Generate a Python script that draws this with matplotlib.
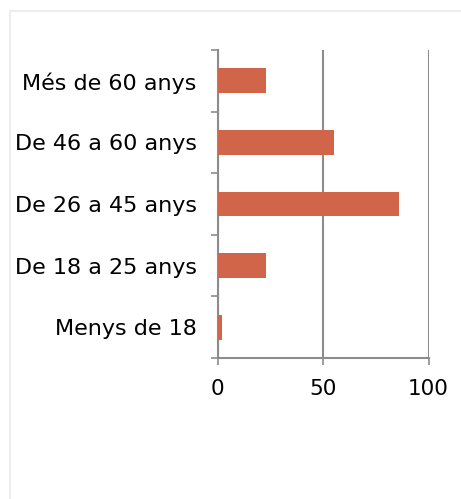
import matplotlib
matplotlib.use("Agg")
import matplotlib.pyplot as plt
from matplotlib.patches import Rectangle

# age groups, bottom to top
groups = ["Menys de 18", "De 18 a 25 anys", "De 26 a 45 anys", "De 46 a 60 anys", "Més de 60 anys"]
counts = [2, 23, 86, 55, 23]
xticks = [0, 50, 100]

bar_color = "#D1654A"
axis_gray = "#8C8C8C"

plt.rcParams["font.family"] = ["DejaVu Sans"]

W, H = 461, 499
fig = plt.figure(figsize=(W / 100, H / 100), dpi=100)
fig.patch.set_facecolor("white")

# light outline around the chart area (runs past the right and bottom edges)
fig.add_artist(Rectangle((9.5 / W, -0.1), 1.2, 1.1 - 10.5 / H, transform=fig.transFigure,
                         fill=False, edgecolor="#EDEDED", linewidth=1.5))

ax = fig.add_axes([217.5 / W, 1 - 358 / H, 211 / W, 308 / H])

pos = list(range(len(groups)))
ax.barh(pos, counts, height=0.4, color=bar_color, zorder=3)

ax.set_xlim(0, 100)
ax.set_ylim(-0.5, len(groups) - 0.5)

# category boundaries get the tick marks, centers get the labels
ax.set_yticks([p - 0.5 for p in pos] + [len(groups) - 0.5])
ax.set_yticklabels([])
ax.set_yticks(pos, minor=True)
ax.set_yticklabels(groups, minor=True, fontsize=16)
ax.tick_params(axis="y", which="minor", length=0, pad=15)
ax.tick_params(axis="y", which="major", length=5, width=1.2, color=axis_gray, direction="out")

ax.set_xticks(xticks)
ax.set_xticklabels([str(t) for t in xticks], fontsize=15.5)
ax.tick_params(axis="x", length=5, width=1.2, color=axis_gray, pad=10)

ax.grid(axis="x", color=axis_gray, linewidth=1.5, zorder=0)
for side in ["top", "right"]:
    ax.spines[side].set_visible(False)
for side in ["left", "bottom"]:
    ax.spines[side].set_color(axis_gray)
    ax.spines[side].set_linewidth(1.5)

fig.savefig("out.png", dpi=100)
